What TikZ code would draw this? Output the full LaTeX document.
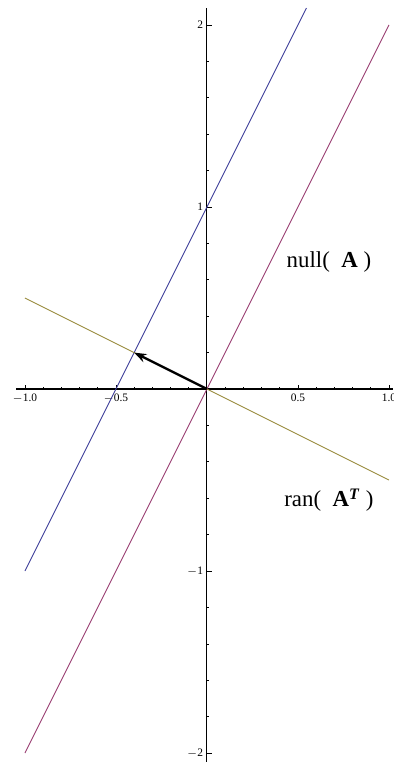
\documentclass[tikz,border=0pt]{standalone}
\usepackage{fontspec}
\setmainfont{Liberation Serif}
\usetikzlibrary{arrows.meta}
\definecolor{mblue}{rgb}{0.24,0.24,0.6}
\definecolor{mred}{rgb}{0.6,0.24,0.4428}
\definecolor{mgold}{rgb}{0.6,0.547,0.24}
\tikzset{
  axisline/.style={line width=0.6pt,black},
  tickline/.style={line width=0.4pt,black},
  ticklabel/.style={font=\fontsize{6.5}{7}\selectfont,inner sep=1pt},
  plotline/.style={line width=0.5pt},
  biglabel/.style={font=\fontsize{13}{15}\selectfont,inner sep=0pt}
}
\begin{document}
\begin{tikzpicture}[x=3.64cm,y=3.64cm]
\useasboundingbox (-1.137,-2.071) rectangle (1.022,2.137);
% axes
\coordinate (O) at (0,0);
\draw[axisline] (-1.049,0) -- (1.022,0);
\draw[axisline] (0,-2.049) -- (0,2.093);
% x ticks
\foreach \i in {-10,...,-1,1,2,...,10} {
  \draw[tickline] (\i/10,0) -- ++(0,1.2pt);
}
\foreach \v/\t in {-1/{$-$1.0},-0.5/{$-$0.5},0.5/{0.5},1/{1.0}} {
  \draw[tickline] (\v,0) -- ++(0,2.4pt);
  \node[ticklabel,anchor=north] (xl\v) at (\v,-1.5pt) {\t};
}
% y ticks
\foreach \i in {-10,...,-1,1,2,...,10} {
  \draw[tickline] (0,\i/5) -- ++(1.2pt,0);
}
\foreach \v/\t in {-2/{$-$2},-1/{$-$1},1/{1},2/{2}} {
  \draw[tickline] (0,\v) -- ++(2.6pt,0);
  \node[ticklabel,anchor=east] (yl\v) at (-1pt,\v) {\t};
}
% lines
\draw[plotline,mblue] (-1,-1) -- (0.5465,2.093);
\draw[plotline,mred] (-1,-2) -- (1,2);
\draw[plotline,mgold] (-1,0.5) -- (1,-0.5);
% arrow
\coordinate (P) at (-0.4,0.2);
\draw[line width=1.3pt,-{Stealth[length=7pt,width=5pt]}] (O) -- (P);
% labels
\node[biglabel] (nullA) at (0.67,0.70) {null(\ \ \textbf{A}\ )};
\node[biglabel] (ranAT) at (0.67,-0.61) {ran(\ \ \textbf{A}\textsuperscript{\textbf{\textit{T}}}\ )};
\end{tikzpicture}
\end{document}
